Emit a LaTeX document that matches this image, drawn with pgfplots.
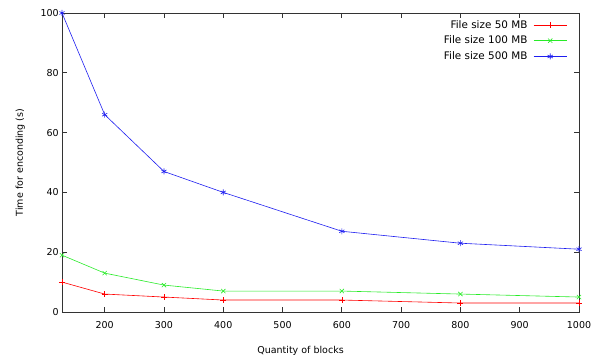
\documentclass[border=0pt]{standalone}
\usepackage{pgfplots}
\pgfplotsset{compat=1.18}
\usepackage{fontspec}
\setmainfont{DejaVu Sans}
\begin{document}
\fontsize{9.5}{11}\selectfont
\begin{tikzpicture}
\useasboundingbox (-62pt,-43pt) rectangle (541pt,312pt);
\begin{axis}[
  at={(0,0)}, anchor=south west,
  scale only axis, width=517pt, height=299pt,
  xmin=128, xmax=1000, ymin=0, ymax=100,
  xtick={200,300,...,1000}, ytick={0,20,...,100},
  tick align=inside, tick pos=both,
  major tick length=5pt,
  /pgf/number format/assume math mode=true,
  /pgf/number format/1000 sep={},
  tick label style={font=\fontsize{9.5}{11}\selectfont},
  xticklabel style={yshift=-6pt},
  label style={font=\fontsize{9.5}{11}\selectfont},
  xlabel={Quantity of blocks}, ylabel={Time for enconding (s)},
  xlabel style={yshift=-11pt, xshift=-20pt},
  ylabel style={yshift=9pt},
  axis line style={black!80, line width=0.7pt},
  every tick/.style={black!80, line width=0.7pt},
  legend style={draw=none, fill=none, at={(0.983,0.99)}, anchor=north east,
    font=\fontsize{10.4}{12}\selectfont, row sep=2.5pt,
    /tikz/every odd column/.append style={column sep=4pt}},
  legend cell align=right, legend plot pos=right,
  legend image code/.code={\draw[mark repeat=2,mark phase=2] plot coordinates {(0cm,0cm) (0.58cm,0cm) (1.16cm,0cm)};},
  every axis plot/.append style={line width=0.6pt},
]
\addplot[color=red, mark=+, mark size=3pt] coordinates {(128,10) (200,6) (300,5) (400,4) (600,4) (800,3) (1000,3)};
\addlegendentry{File size 50 MB}
\addplot[color={rgb,255:red,40;green,235;blue,40}, mark=x, mark size=3pt] coordinates {(128,19) (200,13) (300,9) (400,7) (600,7) (800,6) (1000,5)};
\addlegendentry{File size 100 MB}
\addplot[color={rgb,255:red,30;green,30;blue,240}, mark=asterisk, mark size=3pt] coordinates {(128,100) (200,66) (300,47) (400,40) (600,27) (800,23) (1000,21)};
\addlegendentry{File size 500 MB}
\end{axis}
\end{tikzpicture}
\end{document}
